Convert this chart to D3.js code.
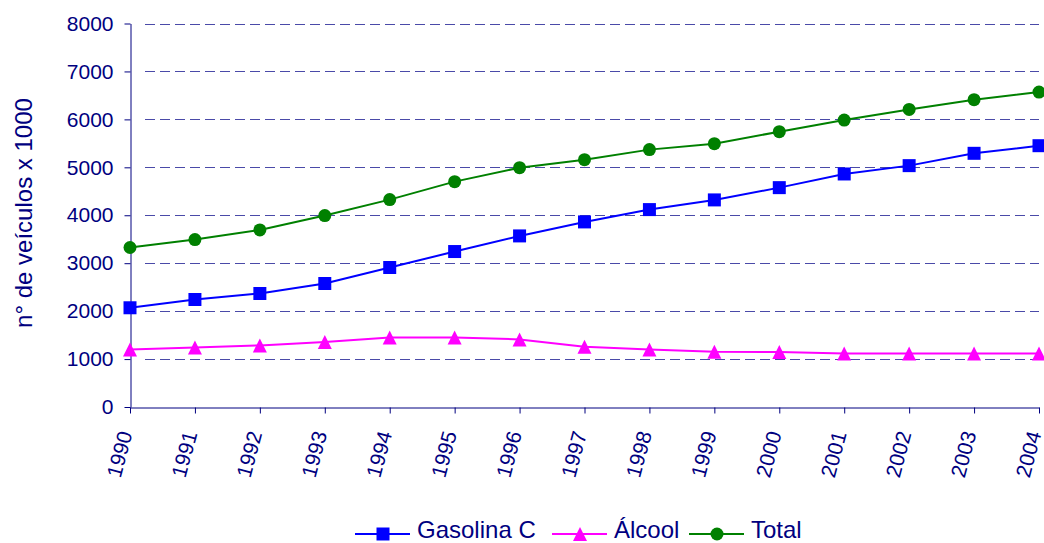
<!DOCTYPE html>
<html>
<head>
<meta charset="utf-8">
<script src="https://cdn.jsdelivr.net/npm/d3@7"></script>
<style>
html,body{margin:0;padding:0;background:#fff;}
svg{display:block;font-family:"Liberation Sans",Arial,sans-serif;}
</style>
</head>
<body>
<svg id="chart" width="1044" height="543"></svg>
<script>
const years = [1990,1991,1992,1993,1994,1995,1996,1997,1998,1999,2000,2001,2002,2003,2004];
const gasolina = [2070,2243,2368,2576,2910,3243,3569,3861,4118,4320,4576,4861,5035,5292,5451];
const alcool = [1201,1243,1285,1354,1451,1451,1410,1257,1201,1153,1146,1118,1118,1118,1118];
const total = [3327,3493,3694,3994,4326,4701,4993,5160,5369,5493,5743,5986,6208,6410,6570];
const yTicks = [0,1000,2000,3000,4000,5000,6000,7000,8000];
const seriesNames = ["Gasolina C","Álcool","Total"];
const seriesColors = ["#0000FF","#FF00FF","#008000"];
const yTitle = "n° de veículos x 1000";

const navy = "#000080";
const svg = d3.select("#chart");
const x = d3.scalePoint().domain(years).range([130, 1039]);
const y = d3.scaleLinear().domain([0, 8000]).range([407, 23.5]);

// gridlines
svg.append("g").selectAll("line").data(yTicks.filter(d => d > 0)).join("line")
  .attr("x1", 145).attr("x2", 1039)
  .attr("y1", d => Math.round(y(d)) + 0.5).attr("y2", d => Math.round(y(d)) + 0.5)
  .attr("stroke", "#4a4aa8").attr("stroke-width", 1)
  .attr("stroke-dasharray", "10,5");

// y axis
const yAxis = svg.append("g").attr("transform", "translate(130.5,0)")
  .call(d3.axisLeft(y).tickValues(yTicks).tickSize(6).tickSizeOuter(0).tickPadding(11).tickFormat(d3.format("d")));
yAxis.selectAll("line,path").attr("stroke", navy);
yAxis.selectAll("text").attr("fill", navy).style("font-size", "21px").style("font-family", "Liberation Sans, Arial, sans-serif");

// x axis
const xAxis = svg.append("g").attr("transform", "translate(0,407.5)")
  .call(d3.axisBottom(x).tickSize(6).tickSizeOuter(0).tickFormat(""));
xAxis.selectAll("line,path").attr("stroke", navy);
xAxis.selectAll(".tick").append("text")
  .attr("fill", navy)
  .attr("text-anchor", "end")
  .attr("transform", "translate(2,26) rotate(-75)")
  .style("font-size", "21px")
  .style("font-family", "Liberation Sans, Arial, sans-serif")
  .text(d => d);

// y title
svg.append("text")
  .attr("transform", "translate(32,213) rotate(-90)")
  .attr("text-anchor", "middle")
  .attr("fill", navy)
  .style("font-size", "24px")
  .text(yTitle);

// symbols
const triSym = { draw(ctx, size) { const h = Math.sqrt(size); ctx.moveTo(0, -h/2); ctx.lineTo(h/2, h/2); ctx.lineTo(-h/2, h/2); ctx.closePath(); } };
const sqSym = { draw(ctx, size) { const h = Math.sqrt(size)/2; ctx.rect(-h, -h, 2*h, 2*h); } };
const symbols = [d3.symbol().type(sqSym).size(169), d3.symbol().type(triSym).size(196), d3.symbol().type(d3.symbolCircle).size(Math.PI*6.5*6.5)];

const allSeries = [gasolina, alcool, total];
const line = d3.line().x((d, i) => x(years[i])).y(d => y(d));
allSeries.forEach((vals, si) => {
  svg.append("path").datum(vals).attr("d", line)
    .attr("fill", "none").attr("stroke", seriesColors[si]).attr("stroke-width", 2);
  svg.append("g").selectAll("path").data(vals).join("path")
    .attr("transform", (d, i) => `translate(${x(years[i])},${y(d)})`)
    .attr("d", symbols[si]()).attr("fill", seriesColors[si]);
});

// legend
const legendX = [355, 552, 689];
const lg = svg.append("g");
seriesNames.forEach((n, i) => {
  const g = lg.append("g").attr("transform", `translate(${legendX[i]},534)`);
  g.append("line").attr("x1", 0).attr("x2", 55).attr("stroke", seriesColors[i]).attr("stroke-width", 2);
  g.append("path").attr("transform", "translate(28,0)").attr("d", symbols[i]()).attr("fill", seriesColors[i]);
  g.append("text").attr("x", 62).attr("y", 4).attr("fill", navy).style("font-size", "24px").text(n);
});
</script>
</body>
</html>
